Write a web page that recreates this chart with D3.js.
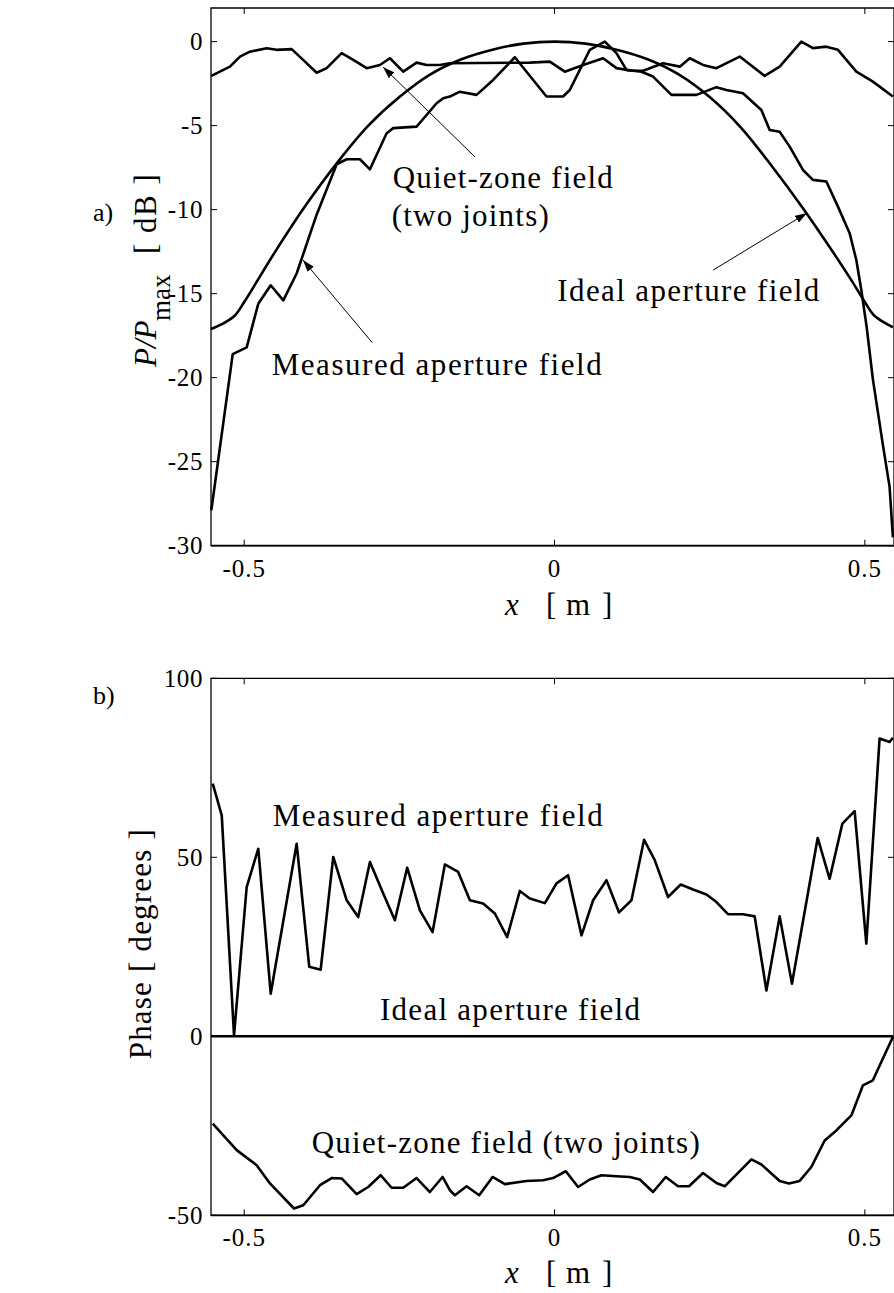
<!DOCTYPE html>
<html><head><meta charset="utf-8">
<script src="https://cdn.jsdelivr.net/npm/d3@7"></script>
<style>
html,body{margin:0;padding:0;background:#fff;}
svg{display:block;}
text{font-family:"Liberation Serif","Times New Roman",Times,serif;fill:#000;}
</style></head><body>
<svg id="chart" width="894" height="1293"></svg>
<script>
// ---------- DATA ----------
const xTicks = [-0.5, 0, 0.5];
const xTickLabels = ["-0.5", "0", "0.5"];
const magTicks = [-30, -25, -20, -15, -10, -5, 0];
const magTickLabels = ["-30", "-25", "-20", "-15", "-10", "-5", "0"];
const phaseTicks = [-50, 0, 50, 100];
const phaseTickLabels = ["-50", "0", "50", "100"];

// a) amplitude, dB  [x (m), P/Pmax (dB)]
const magIdeal = [[-0.5535,-17.1],[-0.535,-16.8],[-0.515,-16.3],[-0.5,-15.5],[-0.48,-14.3],[-0.45,-12.5],[-0.4,-9.7],[-0.35,-7.2],[-0.3,-5.0],[-0.25,-3.3],[-0.2,-1.95],[-0.15,-1.05],[-0.1,-0.48],[-0.05,-0.12],[0,0],[0.05,-0.12],[0.1,-0.48],[0.15,-1.05],[0.2,-1.95],[0.25,-3.3],[0.3,-5.1],[0.35,-7.4],[0.4,-9.9],[0.45,-12.6],[0.48,-14.3],[0.5,-15.5],[0.515,-16.3],[0.535,-16.8],[0.5452,-17.0]];
const magMeasured = [[-0.553,-27.9],[-0.5185,-18.6],[-0.496,-18.2],[-0.4773,-15.6],[-0.4573,-14.5],[-0.437,-15.4],[-0.4155,-13.8],[-0.3833,-10.3],[-0.351,-7.3],[-0.3349,-7.0],[-0.3135,-7.0],[-0.2974,-7.6],[-0.2705,-5.45],[-0.2599,-5.15],[-0.2222,-5.06],[-0.19,-3.67],[-0.1794,-3.37],[-0.1686,-3.27],[-0.1525,-2.98],[-0.1256,-3.17],[-0.0989,-2.28],[-0.0639,-0.93],[-0.0129,-3.27],[0.0138,-3.27],[0.0246,-2.88],[0.0568,-0.49],[0.081,0.0],[0.0998,-0.69],[0.1159,-1.68],[0.1401,-1.79],[0.1588,-2.08],[0.1884,-3.17],[0.2287,-3.17],[0.2609,-2.71],[0.277,-2.88],[0.3037,-3.07],[0.3333,-4.07],[0.3467,-5.26],[0.3628,-5.36],[0.3789,-6.25],[0.4003,-7.64],[0.4164,-8.23],[0.438,-8.33],[0.4567,-9.82],[0.4755,-11.4],[0.4863,-13.0],[0.4944,-14.8],[0.503,-17.0],[0.513,-20.1],[0.5291,-24.0],[0.5399,-26.5],[0.5452,-29.5]];
const magQuiet = [[-0.553,-2.04],[-0.5229,-1.49],[-0.5068,-0.89],[-0.4907,-0.6],[-0.4638,-0.39],[-0.4477,-0.49],[-0.4235,-0.45],[-0.4021,-1.19],[-0.3833,-1.85],[-0.3671,-1.58],[-0.343,-0.69],[-0.3243,-1.09],[-0.3027,-1.58],[-0.2813,-1.39],[-0.2652,-0.99],[-0.2438,-1.79],[-0.2222,-1.25],[-0.2061,-1.39],[-0.1847,-1.39],[-0.1686,-1.29],[-0.0398,-1.25],[-0.0076,-1.19],[0.0166,-1.79],[0.0461,-1.39],[0.0783,-0.99],[0.0998,-1.58],[0.124,-1.73],[0.1427,-1.73],[0.1749,-1.29],[0.2018,-1.49],[0.2179,-0.99],[0.2393,-1.39],[0.2609,-1.58],[0.2984,-0.89],[0.3386,-2.04],[0.3628,-1.49],[0.3977,0.0],[0.4164,-0.39],[0.438,-0.3],[0.4567,-0.49],[0.4863,-1.79],[0.513,-2.38],[0.5452,-3.27]];

// b) phase, degrees  [x (m), phase (deg)]
const phaseIdeal = [[-0.5535,0],[0.5452,0]];
const phaseMeasured = [[-0.5507,70.6],[-0.5362,61.7],[-0.5164,0.3],[-0.496,41.7],[-0.4773,52.4],[-0.4573,11.9],[-0.4155,53.8],[-0.3952,19.4],[-0.3768,18.6],[-0.3565,50.1],[-0.3349,38.0],[-0.3163,33.3],[-0.2974,48.7],[-0.276,39.9],[-0.2572,32.4],[-0.2374,47.1],[-0.2169,35.2],[-0.1965,29.1],[-0.1767,48.0],[-0.1552,45.9],[-0.1364,38.0],[-0.115,37.1],[-0.0961,34.3],[-0.0763,27.7],[-0.0559,40.6],[-0.0398,38.5],[-0.0156,37.2],[0.0032,42.7],[0.0219,45.0],[0.0435,28.2],[0.0622,38.0],[0.0837,43.6],[0.104,34.6],[0.124,38.0],[0.1443,54.9],[0.1615,49.2],[0.1829,38.9],[0.2034,42.4],[0.2232,41.0],[0.2448,39.6],[0.2609,37.5],[0.2795,34.1],[0.3037,34.1],[0.3225,33.5],[0.3414,12.8],[0.3628,33.5],[0.3826,14.7],[0.424,55.4],[0.4433,44.0],[0.4638,59.4],[0.4836,62.9],[0.5024,25.9],[0.5238,83.2],[0.5399,82.2],[0.5452,83.4]];
const phaseQuiet = [[-0.5507,-24.4],[-0.5121,-31.8],[-0.4799,-36.0],[-0.4585,-41.1],[-0.4198,-48.1],[-0.4048,-47.2],[-0.3779,-41.6],[-0.3591,-39.6],[-0.343,-39.7],[-0.3188,-44.1],[-0.3002,-42.1],[-0.2802,-38.8],[-0.2625,-42.3],[-0.2438,-42.3],[-0.2222,-39.6],[-0.2008,-43.5],[-0.1804,-39.3],[-0.1686,-43.0],[-0.1605,-44.4],[-0.1417,-41.9],[-0.1214,-44.4],[-0.0998,-39.3],[-0.08,-41.3],[-0.0451,-40.4],[-0.0184,-40.2],[-0.0023,-39.6],[0.0182,-37.7],[0.038,-42.1],[0.0568,-40.0],[0.0757,-38.8],[0.0998,-39.1],[0.1213,-39.3],[0.1374,-40.0],[0.1588,-43.5],[0.1792,-39.3],[0.199,-41.9],[0.2167,-41.9],[0.2393,-38.2],[0.2609,-41.0],[0.2742,-41.9],[0.3172,-34.4],[0.3333,-35.8],[0.3628,-40.4],[0.3778,-41.1],[0.395,-40.4],[0.4138,-36.5],[0.4353,-29.1],[0.4541,-26.3],[0.4783,-22.1],[0.4969,-13.7],[0.513,-12.3],[0.5291,-6.2],[0.5452,-0.2]];

// annotation texts: [label, x (m), y (data units), width px]
const magNotes = [["Quiet-zone field",-0.2607,-8.71,220],["(two joints)",-0.2623,-10.98,157],["Ideal aperture field",0.0045,-15.41,262],["Measured aperture field",-0.4557,-19.86,330]];
const phaseNotes = [["Measured aperture field",-0.4541,58.8,330],["Ideal aperture field",-0.2812,4.5,260],["Quiet-zone field (two joints)",-0.3912,-32.7,388]];
// arrows: [x1,y1,x2,y2] in data units (tail -> tip)
const magArrows = [[-0.128,-6.87,-0.2763,-1.51],[-0.294,-17.9,-0.4053,-13.0],[0.2554,-13.6,0.4069,-10.2]];

// ---------- DRAW ----------
const svg = d3.select("#chart");
svg.append("rect").attr("width",894).attr("height",1293).attr("fill","#fff");
svg.append("defs").append("marker")
  .attr("id","ah").attr("viewBox","0 0 12 8").attr("refX",12).attr("refY",4)
  .attr("markerWidth",12).attr("markerHeight",8).attr("markerUnits","userSpaceOnUse")
  .attr("orient","auto")
  .append("path").attr("d","M0,0 L12,4 L0,8 Z").attr("fill","#000");

const x = d3.scaleLinear().domain([-0.5535, 0.547]).range([211, 894]);
const LEFT = 211, RIGHT = 894;

function panel(y, yTicks, yLabels, series, notes, arrows){
  const [y0, y1] = y.range(); // bottom, top
  const g = svg.append("g");
  g.append("path").attr("d",`M${LEFT},${y1}H${RIGHT}V${y0}H${LEFT}Z`)
    .attr("fill","none").attr("stroke","#000").attr("stroke-width",1.3);
  g.append("line").attr("x1",LEFT).attr("x2",RIGHT).attr("y1",y0).attr("y2",y0)
    .attr("stroke","#000").attr("stroke-width",1.8);
  xTicks.forEach((t,i)=>{
    const px = x(t);
    g.append("line").attr("x1",px).attr("x2",px).attr("y1",y0).attr("y2",y0-6).attr("stroke","#000").attr("stroke-width",1);
    g.append("line").attr("x1",px).attr("x2",px).attr("y1",y1).attr("y2",y1+6).attr("stroke","#000").attr("stroke-width",1);
    g.append("text").attr("x",px).attr("y",y0+31).attr("text-anchor","middle")
      .attr("font-size",25).attr("letter-spacing",1).text(xTickLabels[i]);
  });
  yTicks.forEach((t,i)=>{
    const py = y(t);
    g.append("line").attr("x1",LEFT).attr("x2",LEFT+6).attr("y1",py).attr("y2",py).attr("stroke","#000").attr("stroke-width",1);
    g.append("line").attr("x1",RIGHT).attr("x2",RIGHT-6).attr("y1",py).attr("y2",py).attr("stroke","#000").attr("stroke-width",1);
    g.append("text").attr("x",203).attr("y",py+8.5).attr("text-anchor","end")
      .attr("font-size",25).attr("letter-spacing",0.6).text(yLabels[i]);
  });
  series.forEach(s=>{
    const line = d3.line().x(d=>x(d[0])).y(d=>y(d[1])).curve(s.curve||d3.curveLinear);
    g.append("path").datum(s.data).attr("d",line).attr("fill","none")
      .attr("stroke","#000").attr("stroke-width",2.6).attr("stroke-linejoin","round");
  });
  notes.forEach(n=>{
    g.append("text").attr("x",x(n[1])).attr("y",y(n[2])).attr("font-size",31)
      .attr("textLength",n[3]).attr("lengthAdjust","spacing").text(n[0]);
  });
  (arrows||[]).forEach(a=>{
    g.append("line").attr("x1",x(a[0])).attr("y1",y(a[1])).attr("x2",x(a[2])).attr("y2",y(a[3]))
      .attr("stroke","#000").attr("stroke-width",1).attr("marker-end","url(#ah)");
  });
  return g;
}

const yMag = d3.scaleLinear().domain([-30, 2]).range([545.7, 8]);
const yPh = d3.scaleLinear().domain([-50, 100]).range([1215.3, 678.3]);

panel(yMag, magTicks, magTickLabels,
  [{data:magIdeal, curve:d3.curveCatmullRom},{data:magMeasured},{data:magQuiet}],
  magNotes, magArrows);
panel(yPh, phaseTicks, phaseTickLabels,
  [{data:phaseIdeal},{data:phaseMeasured},{data:phaseQuiet}],
  phaseNotes, []);

// panel letters
svg.append("text").attr("x",93).attr("y",221).attr("font-size",26).text("a)");
svg.append("text").attr("x",93).attr("y",704).attr("font-size",26).text("b)");

// x-axis titles
[615, 1283].forEach(by=>{
  const t = svg.append("text").attr("y",by).attr("font-size",31);
  t.append("tspan").attr("x",505).attr("font-style","italic").text("x");
  t.append("tspan").attr("x",546).text("[");
  t.append("tspan").attr("x",566).text("m");
  t.append("tspan").attr("x",602).text("]");
});

// y-axis title a)
const ya = svg.append("text").attr("transform","translate(156,367) rotate(-90)").attr("font-size",31);
ya.append("tspan").attr("x",0).attr("font-style","italic").text("P/P");
ya.append("tspan").attr("x",46).attr("dy",14).attr("font-size",27).text("max");
ya.append("tspan").attr("x",113).attr("dy",-14).attr("letter-spacing",1.5).text("[ dB ]");

// y-axis title b)
svg.append("text").attr("transform","translate(151,828) rotate(-90)").attr("font-size",31)
  .attr("text-anchor","end").attr("letter-spacing",1.2).text("Phase  [ degrees ]");
</script></body></html>
